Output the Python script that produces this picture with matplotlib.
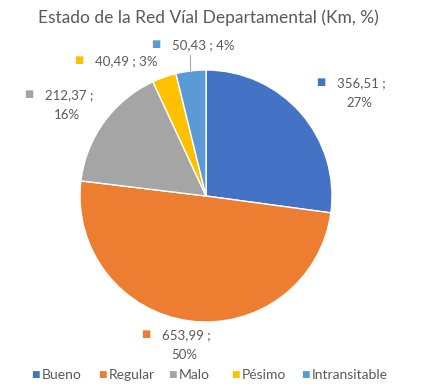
import numpy as np
import matplotlib.pyplot as plt

categories = ['Bueno', 'Regular', 'Malo', 'Pésimo', 'Intransitable']
km = [356.51, 653.99, 212.37, 40.49, 50.43]
pct_labels = ['27%', '50%', '16%', '3%', '4%']
colors = ['#4472C4', '#ED7D31', '#A5A5A5', '#FFC000', '#5B9BD5']

W, H = 421, 389
fig = plt.figure(figsize=(W / 100, H / 100), dpi=100)
plt.rcParams['font.family'] = ['Lato', 'DejaVu Sans']
txt_color = '#595959'

# pie axes placed in pixel terms
cx, cy, r = 206, 196, 126
ax = fig.add_axes([(cx - r) / W, 1 - (cy + r) / H, 2 * r / W, 2 * r / H])
ax.pie(km, colors=colors, startangle=90, counterclock=False,
       wedgeprops=dict(edgecolor='white', linewidth=1))
ax.set_aspect('auto')
ax.set_xlim(-1, 1)
ax.set_ylim(-1, 1)

def fmt(v):
    return '{:.2f}'.format(v).replace('.', ',')

# label layout: (square x, square y, two lines?)
layout = [(321, 83, True), (146, 335, True), (29, 95, True), (79, 61, False), (156, 45, False)]
for i, (sx, sy, two) in enumerate(layout):
    fig.text(sx / W, 1 - sy / H, '■', color=colors[i], fontsize=7, ha='center', va='center')
    if two:
        t = fmt(km[i]) + ' ;'
        fig.text((sx + 16) / W, 1 - sy / H, t, color=txt_color, fontsize=9.5, ha='left', va='center')
        fig.text((sx + 16 + 22) / W, 1 - (sy + 20) / H, pct_labels[i], color=txt_color,
                 fontsize=9.5, ha='center', va='center')
    else:
        t = fmt(km[i]) + ' ; ' + pct_labels[i]
        fig.text((sx + 16) / W, 1 - sy / H, t, color=txt_color, fontsize=9.5, ha='left', va='center')

# leader line for Intransitable
fig.add_artist(plt.Line2D([190 / W, 190 / W], [1 - 55 / H, 1 - 70 / H], color='#A6A6A6', lw=0.8))

fig.text(208 / W, 1 - 18 / H, 'Estado de la Red Víal Departamental (Km, %)',
         color=txt_color, fontsize=12.5, ha='center', va='center')

# legend
leg_x = [35, 102, 172, 235, 305]
for i, c in enumerate(categories):
    fig.text(leg_x[i] / W, 1 - 375 / H, '■', color=colors[i], fontsize=6.5, ha='center', va='center')
    fig.text((leg_x[i] + 7) / W, 1 - 375 / H, c, color=txt_color, fontsize=10, ha='left', va='center')

fig.savefig('out.png', dpi=100, facecolor='white')
